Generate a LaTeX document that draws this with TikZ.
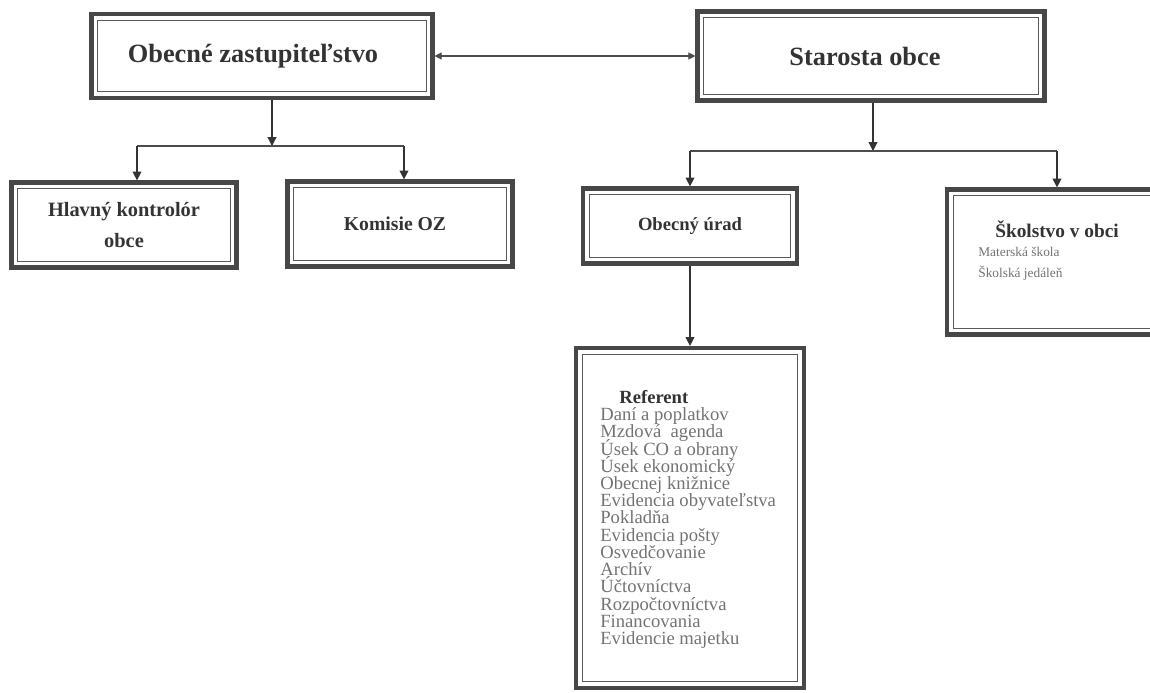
\documentclass[tikz,border=0pt]{standalone}
\usepackage{fontspec}
\setmainfont{Liberation Serif}
\usetikzlibrary{arrows.meta}

\newcommand\tesnyriadok{\lineskiplimit=-20pt\relax}

\tikzset{
    ramik/.style={draw=black!72, line width=2.4pt, inner sep=2pt, align=center,
        text=black!80, font=\bfseries,
        path picture={\draw[black!65, line width=0.7pt]
            ([shift={(3.6pt,-3.6pt)}]path picture bounding box.north west) rectangle
            ([shift={(-3.6pt,3.6pt)}]path picture bounding box.south east);}},
    sipka/.style={-{Triangle[length=5pt,width=5pt]}, black!80, line width=0.6pt},
    vetva/.style={black!70, line width=0.6pt},
    polozka/.style={text=black!55, align=left, inner sep=0pt}
}

\begin{document}
\begin{tikzpicture}[x=0.02cm, y=-0.02cm]
            \useasboundingbox (0,0) rectangle (1150,693);

            % top level
            \node[ramik, minimum width=6.82cm, minimum height=1.68cm, font=\bfseries\fontsize{15}{17}\selectfont] (zast) at (262,56) {Obecné zastupiteľstvo\hspace*{0.36cm}};
            \node[ramik, minimum width=6.94cm, minimum height=1.78cm, font=\bfseries\fontsize{15}{17}\selectfont] (starosta) at (871,56) {Starosta obce\hspace*{0.24cm}};
            \draw[{Triangle[length=4pt,width=4pt]}-{Triangle[length=4pt,width=4pt]}, vetva] (zast.east) -- (starosta.west);

            % under zastupitelstvo
            \node[ramik, minimum width=4.5cm, minimum height=1.7cm, font=\bfseries\fontsize{11.6}{17.6}\selectfont] (kontrolor) at (124,225) {Hlavný kontrolór\\obce};
            \node[ramik, minimum width=4.5cm, minimum height=1.7cm, font=\bfseries\fontsize{11.2}{13}\selectfont] (komisie) at (400,224) {\hspace*{-0.2cm}Komisie OZ};

            \coordinate (zj) at (272,146);
            \coordinate (zl) at (137,146);
            \coordinate (zr) at (404,146);
            \draw[sipka] (zast.south -| zj) -- (zj);
            \draw[vetva] (zl) -- (zr);
            \draw[sipka] (zl) -- (zl |- kontrolor.north);
            \draw[sipka] (zr) -- (zr |- komisie.north);

            % under starosta
            \node[ramik, minimum width=4.28cm, minimum height=1.5cm, font=\bfseries\fontsize{10.6}{12}\selectfont] (urad) at (690,226) {Obecný úrad};
            \node[ramik, minimum width=4.32cm, minimum height=2.9cm] (skolstvo) at (1055,262) {};
            \node[font=\bfseries\fontsize{11}{13}\selectfont, text=black!80] (skolstvoNazov) at (1057,229) {Školstvo v obci};
            \node[polozka, anchor=west, font=\fontsize{7.6}{9}\selectfont] (skolka) at (978,252) {Materská škola};
            \node[polozka, anchor=west, font=\fontsize{7.6}{9}\selectfont] (jedalen) at (978,273) {Školská jedáleň};

            \coordinate (sj) at (873,151);
            \coordinate (sl) at (690,151);
            \coordinate (sr) at (1057,151);
            \draw[sipka] (starosta.south -| sj) -- (sj);
            \draw[vetva] (sl) -- (sr);
            \draw[sipka] (sl) -- (sl |- urad.north);
            \draw[sipka] (sr) -- (sr |- skolstvo.north);

            % referent
            \node[ramik, minimum width=4.56cm, minimum height=6.8cm] (referent) at (690,518) {};
            \node[polozka, anchor=north west, font=\fontsize{10.6}{9.8}\selectfont\tesnyriadok] (agendy) at (600,390)
                {\hspace*{0.38cm}\textbf{\textcolor{black!80}{Referent}}\\
                 Daní a poplatkov\\
                 Mzdová\ \ agenda\\
                 Úsek CO a obrany\\
                 Úsek ekonomický\\
                 Obecnej knižnice\\
                 Evidencia obyvateľstva\\
                 Pokladňa\\
                 Evidencia pošty\\
                 Osvedčovanie\\
                 Archív\\
                 Účtovníctva\\
                 Rozpočtovníctva\\
                 Financovania\\
                 Evidencie majetku};
            \draw[sipka] (urad.south) -- (urad.south |- referent.north);
     \end{tikzpicture}
\end{document}
